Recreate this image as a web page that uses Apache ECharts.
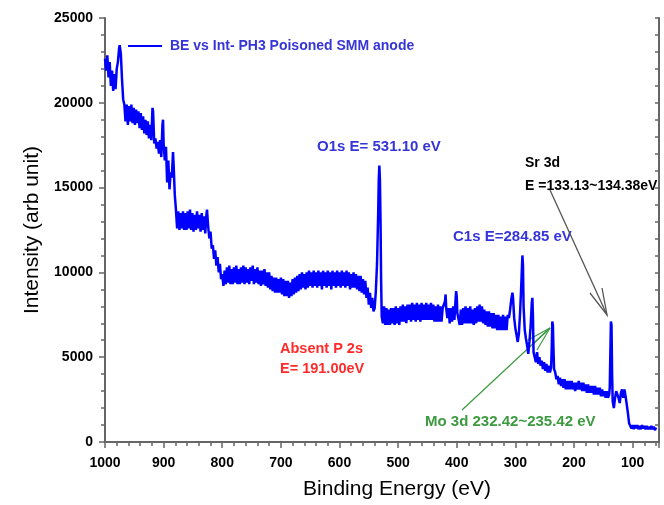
<!DOCTYPE html>
<html>
	<head>
		<title>XPS survey</title>
		<meta charset="utf-8">
		<style>
html, body {
	width: 100%;
	height: 100%;
	margin: 0;
	background: #fff;
}
		</style>
	</head>
	<body>
		<div id="box1" style="width:664px;height:505px"></div>
	</body>
	<script src="https://cdn.jsdelivr.net/npm/echarts@6/dist/echarts.min.js"></script>
	<script type="text/javascript">
// survey spectrum, [binding energy eV, intensity]
var segHigh = [
	[1000,22600],[998,21900],[996,22800],[994,21500],[992,22400],[990,21000],[988,21900],[986,20700],
	[984,21700],[982,20800],[980,22000],[978,22400],[976,23200],[975,23400],[973,22900],[971,21400],
	[969,20200],[967,19900],[965,18900],[963,19900],[961,18700],[959,19800],[957,18900],[955,19900],
	[953,18800],[951,19700],[949,18700],[947,19600],[945,18800],[943,19500],[941,18500],[939,19400],
	[937,18400],[935,19200],[933,18200],[931,19000],[929,18100],[927,18900],[925,17900],[923,18700],
	[921,17800],[919,19700],[918,19500],[916,17600],[914,17900],[912,17300],[910,17700],[908,17000],
	[906,17800],[904,16800],[902,18700],[901,19000],[900,17600],[898,16600],[896,17400],[894,15300],
	[892,16600],[890,14900],[888,15900],[886,15600],[884,17100],[883,16400],[881,14600],[879,13700],
	[877,12600],[875,13600],[873,12500],[871,13500],[869,12600],[867,13600],[865,12500],[863,13500],
	[861,12500],[859,13600],[857,12600],[855,13700],[853,12500],[851,13500],[849,12400],[847,13400],
	[845,12500],[843,13600],[841,12600],[839,13400],[837,12400],[835,13500],[833,12500],[831,13300],
	[829,12300],[827,13400],[826,13700],[824,12700],[822,12000],[820,12400],[818,11400],[816,11600],
	[814,10800],[812,11300],[810,10400],[808,10900],[806,10000],[804,10500],[802,9600],[800,9900]
];
var segMid = [
	[798,9200],[796,10100],[794,9300],[792,10300],[790,9400],[788,10400],[786,9300],[784,10200],
	[782,9300],[780,10300],[778,9400],[776,10400],[774,9300],[772,10200],[770,9300],[768,10300],
	[766,9400],[764,10400],[762,9300],[760,10300],[758,9400],[756,10200],[754,9300],[752,10300],
	[750,9500],[748,10400],[746,9300],[744,10200],[742,9400],[740,10300],[738,9300],[736,10100],
	[734,9200],[732,10100],[730,9300],[728,10200],[726,9200],[724,10000],[722,9100],[720,10000],
	[718,9000],[716,9800],[714,8900],[712,9700],[710,8800],[708,9700],[706,8800],[704,9600],
	[702,8800],[700,9700],[698,8700],[696,9600],[694,8600],[692,9500],[690,8600],[688,9500],
	[686,8500],[684,9400],[682,8600],[680,9600],[678,8700],[676,9700],[674,8800],[672,9800],
	[670,8900],[668,9900],[666,9000],[664,10000],[662,9100],[660,9900],[658,9000],[656,10000],
	[654,9100],[652,10100],[650,9200],[648,10000],[646,9100],[644,10100],[642,9200],[640,10000],
	[638,9100],[636,10100],[634,9200],[632,10000],[630,9000],[628,10100],[626,9200],[624,10000],
	[622,9100],[620,10100],[618,9200],[616,10000],[614,9000],[612,10100],[610,9200],[608,10000],
	[606,9100],[604,10100],[602,9200],[600,10000],[598,9100],[596,10100],[594,9200],[592,10000],
	[590,9100],[588,10100],[586,9200],[584,10000],[582,9000],[580,9900],[578,9100],[576,10000],
	[574,9100],[572,9900],[570,9000],[568,9800],[566,8900],[564,9800],[562,8800],[560,9600],
	[558,8700],[556,9500],[554,8500],[552,9100],[550,8100],[548,8800],[546,7900],[544,8500],
	[542,7700],[540,7900],[538,8900],[536,10500],[534,13500],[533,15500],[532,16300],[531,15400],
	[530,13000],[529,9500],[528,7400]
];
var segLow = [
	[526,7000],[524,8000],[522,6900],[520,7900],[518,6900],[516,7800],[514,6900],[512,7900],
	[510,7000],[508,7900],[506,6900],[504,8000],[502,7000],[500,7900],[498,6900],[496,8000],
	[494,7100],[492,8100],[490,7100],[488,8000],[486,7000],[484,8100],[482,7200],[480,8100],
	[478,7100],[476,8200],[474,7200],[472,8100],[470,7100],[468,8200],[466,7200],[464,8100],
	[462,7100],[460,8200],[458,7200],[456,8100],[454,7200],[452,8200],[450,7200],[448,8100],
	[446,7200],[444,8200],[442,7200],[440,8100],[438,7100],[436,8000],[434,7100],[432,8100],
	[430,7100],[428,8000],[426,7100],[424,7900],[422,8000],[420,8300],[419,8700],[418,7900],
	[416,7300],[414,7900],[412,7000],[410,7900],[408,7100],[406,8000],[404,7200],[402,8400],
	[401,8900],[400,8600],[399,7600],[397,7700],[395,6900],[393,7800],[391,6900],[389,7900],
	[387,7000],[385,8000],[383,7000],[381,7900],[379,7000],[377,8000],[375,7000],[373,7800],
	[371,6900],[369,7900],[367,7000],[365,8000],[363,7100],[361,8100],[359,7100],[357,8000],
	[355,7000],[353,7800],[351,6900],[349,7700],[347,6800],[345,7700],[343,6800],[341,7600],
	[339,6700],[337,7600],[335,6700],[333,7500],[331,6600],[329,7500],[327,6600],[325,7400],
	[323,6600],[321,7500],[319,6600],[317,7400],[315,6600],[313,7500],[311,7300],[309,7800],
	[307,8400],[305,8800],[304,8500],[302,7300],[300,6700]
];
var segTail = [
	[298,6300],[296,5900],[294,6400],[292,7600],[290,9200],[288,11000],[287,10400],[286,8000],
	[284,6600],[282,6100],[280,5700],[278,5200],[276,5900],[274,6800],[272,8200],[271,8500],
	[270,7400],[269,5300],[267,5300],[265,4700],[263,5300],[261,4600],[259,5000],[257,4500],
	[255,4800],[253,4300],[251,4700],[249,4200],[247,4600],[245,4100],[243,4500],[241,4100],
	[239,4400],[238,5500],[237,7100],[236,6900],[235,5500],[234,4300],[232,4100],[230,3700],
	[228,3900],[226,3400],[224,3800],[222,3300],[220,3700],[218,3200],[216,3700],[214,3100],
	[212,3600],[210,3100],[208,3600],[206,3100],[204,3600],[202,3100],[200,3500],[198,3000],
	[196,3500],[194,3100],[192,3600],[190,3100],[188,3500],[186,3000],[184,3500],[182,3000],
	[180,3400],[178,2900],[176,3400],[174,2900],[172,3300],[170,2900],[168,3300],[166,2800],
	[164,3300],[162,2800],[160,3200],[158,2800],[156,3200],[154,2700],[152,3100],[150,2700],
	[148,3000],[146,2600],[144,3000],[142,2600],[140,2800],[139,3200],[138,5200],[137,7100],
	[136,6900],[135,4000],[134,2400],[132,2000],[130,2600],[128,3000],[126,3100],[124,2600],
	[122,2300],[120,2900],[118,3100],[116,2600],[114,3100],[112,2700],[110,2700],[108,1700],
	[106,1100],[104,1000],[102,800],[100,1000],[98,750],[96,1000],[94,800],[92,1000],
	[90,750],[88,950],[86,750],[84,1000],[82,800],[80,950],[78,750],[76,950],
	[74,750],[72,900],[70,750],[68,950],[66,750],[64,900],[62,700],[60,850]
];
var seriesName = 'BE vs Int- PH3 Poisoned SMM anode';
var xName = 'Binding Energy (eV)';
var yName = 'Intensity (arb unit)';

var spectrum = segHigh.concat(segMid, segLow, segTail);

var myChart = echarts.init(document.getElementById('box1'));

var axisCol = '#666';
var labelFont = { color: '#000', fontSize: 14, fontWeight: 'bold', fontFamily: 'Liberation Sans, Arial' };
var plain = function (v) { return String(v); };

function txt(x, y, s, col, size, weight) {
	return {
		type: 'text', x: x, y: y,
		style: { text: s, fill: col, font: (weight || 'bold') + ' ' + size + 'px Liberation Sans, Arial', verticalAlign: 'middle' }
	};
}

var option = {
	animation: false,
	backgroundColor: '#fff',
	grid: { left: 105, right: 5, top: 18, bottom: 63 },
	legend: {
		left: 123, top: 34,
		icon: 'rect', itemWidth: 34, itemHeight: 2, itemGap: 5,
		textStyle: { color: '#3535d8', fontSize: 14, fontWeight: 'bold', fontFamily: 'Liberation Sans, Arial', padding: [0, 0, 0, 3] },
		data: [seriesName]
	},
	xAxis: [{
		type: 'value', inverse: true, min: 55, max: 1000, splitNumber: 10,
		name: xName, nameLocation: 'middle', nameGap: 37,
		nameTextStyle: { color: '#000', fontSize: 21, fontFamily: 'Liberation Sans, Arial', padding: [0, 0, 0, 30] },
		axisLine: { lineStyle: { color: axisCol, width: 2 } },
		axisTick: { length: 6, lineStyle: { color: axisCol, width: 1.5 } },
		minorTick: { show: true, splitNumber: 5, length: 4, lineStyle: { color: axisCol, width: 1.5 } },
		axisLabel: Object.assign({ margin: 14, showMinLabel: false, formatter: plain }, labelFont),
		splitLine: { show: false }
	}, {
		type: 'value', inverse: true, min: 55, max: 1000, splitNumber: 10, position: 'top',
		axisLine: { lineStyle: { color: axisCol, width: 2 } },
		axisTick: { inside: true, length: 4, lineStyle: { color: axisCol, width: 1.5 } },
		minorTick: { show: true, splitNumber: 5, length: 4, lineStyle: { color: axisCol, width: 1.5 } },
		axisLabel: { show: false },
		splitLine: { show: false }
	}],
	yAxis: [{
		type: 'value', min: 0, max: 25000, interval: 5000,
		name: yName, nameLocation: 'middle', nameGap: 62,
		nameTextStyle: { color: '#000', fontSize: 21, fontFamily: 'Liberation Sans, Arial' },
		axisLine: { show: true, lineStyle: { color: axisCol, width: 2 } },
		axisTick: { show: true, length: 6, lineStyle: { color: axisCol, width: 1.5 } },
		minorTick: { show: true, splitNumber: 5, length: 4, lineStyle: { color: axisCol, width: 1.5 } },
		axisLabel: Object.assign({ margin: 12, formatter: plain }, labelFont),
		splitLine: { show: false }
	}, {
		type: 'value', min: 0, max: 25000, interval: 5000, position: 'right',
		axisLine: { show: true, lineStyle: { color: axisCol, width: 2 } },
		axisTick: { show: true, inside: true, length: 4, lineStyle: { color: axisCol, width: 1.5 } },
		minorTick: { show: true, splitNumber: 5, length: 4, lineStyle: { color: axisCol, width: 1.5 } },
		axisLabel: { show: false },
		splitLine: { show: false }
	}],
	series: [{
		name: seriesName,
		type: 'line',
		data: spectrum,
		showSymbol: false,
		symbol: 'none',
		lineStyle: { color: '#0000ff', width: 2.5 },
		itemStyle: { color: '#0000ff' }
	}],
	graphic: [
		txt(317, 147, 'O1s E= 531.10 eV', '#3535d8', 15),
		txt(453, 237, 'C1s E=284.85 eV', '#3535d8', 15),
		txt(525, 163, 'Sr 3d', '#000', 14),
		txt(525, 186, 'E =133.13~134.38eV', '#000', 14),
		txt(280, 349, 'Absent P 2s', '#ff2a2a', 14.5),
		txt(280, 369, 'E= 191.00eV', '#ff2a2a', 14.5),
		txt(425, 422, 'Mo 3d 232.42~235.42 eV', '#3d9a40', 15),
		// Sr 3d arrow
		{ type: 'line', shape: { x1: 550, y1: 190, x2: 607, y2: 315 }, style: { stroke: '#555', lineWidth: 1.3 } },
		{ type: 'polyline', shape: { points: [[590, 293], [607, 315], [602, 288]] }, style: { stroke: '#555', lineWidth: 1.3, fill: null } },
		// Mo 3d arrow
		{ type: 'line', shape: { x1: 462, y1: 410, x2: 550, y2: 328 }, style: { stroke: '#3d9a40', lineWidth: 1.2 } },
		{ type: 'line', shape: { x1: 550, y1: 328, x2: 528, y2: 340 }, style: { stroke: '#3d9a40', lineWidth: 1.2 } },
		{ type: 'line', shape: { x1: 550, y1: 328, x2: 533, y2: 344 }, style: { stroke: '#3d9a40', lineWidth: 1.2 } },
		{ type: 'line', shape: { x1: 550, y1: 328, x2: 537, y2: 350 }, style: { stroke: '#3d9a40', lineWidth: 1.2 } }
	]
};

myChart.setOption(option);

window.addEventListener('resize', () => {
	myChart.resize()
})
	</script>
</html>
